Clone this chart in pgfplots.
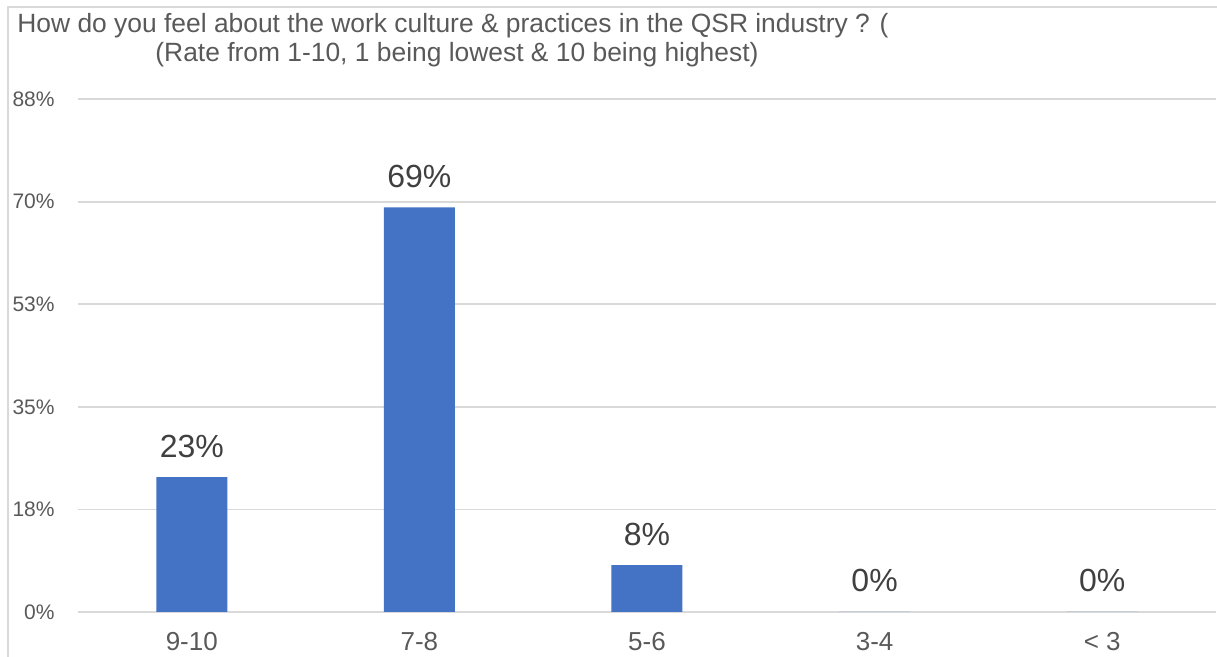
\documentclass[border=0pt]{standalone}
\usepackage{pgfplots}
\pgfplotsset{compat=1.18}
\usepackage{fontspec}
\setmainfont{Liberation Sans}
\definecolor{barblue}{HTML}{4472C4}
\definecolor{txtgray}{HTML}{595959}
\definecolor{lbldark}{HTML}{404040}
\definecolor{gridgray}{HTML}{D9D9D9}
\begin{document}
\begin{tikzpicture}
\useasboundingbox (0,0) rectangle (608.5pt,-328.5pt);
\draw[gridgray, line width=0.8pt] (4pt,-400pt) -- (4pt,-3.5pt) -- (700pt,-3.5pt);
\node[anchor=base west, inner sep=0, text=txtgray, font=\fontsize{13.2}{15}\selectfont] at (8.5pt,-16.5pt) {How do you feel about the work culture \& practices in the QSR industry ? (};
\node[anchor=base west, inner sep=0, text=txtgray, font=\fontsize{13.2}{15}\selectfont] at (77.5pt,-31pt) {(Rate from 1-10, 1 being lowest \& 10 being highest)};
\begin{axis}[
  at={(39pt,-306pt)}, anchor=south west,
  width=569pt, height=256.5pt, scale only axis,
  /pgf/number format/assume math mode=true,
  ybar, bar width=35.5pt,
  xmin=-0.5, xmax=4.5, ymin=0, ymax=87.5,
  xtick={0,1,2,3,4},
  xticklabels={9-10,7-8,5-6,3-4,< 3},
  ytick={0,17.5,35,52.5,70,87.5},
  yticklabels={0\%,18\%,35\%,53\%,70\%,88\%},
  major tick length=0pt,
  axis line style={draw=none},
  ymajorgrids, major grid style={gridgray, line width=0.9pt},
  xticklabel style={anchor=north, inner sep=0pt, yshift=-10pt, text=txtgray, font=\fontsize{13}{15}\selectfont},
  yticklabel style={anchor=east, inner sep=0pt, xshift=-11.5pt, text=txtgray, font=\fontsize{10.5}{12}\selectfont},
  nodes near coords={\pgfmathprintnumber[fixed,precision=0]{\pgfplotspointmeta}\%},
  every node near coord/.append style={anchor=base, inner sep=0pt, yshift=10pt, text=lbldark, font=\fontsize{16}{18}\selectfont},
  clip=false,
]
\addplot[fill=barblue, draw=none] coordinates {(0,23) (1,69) (2,8) (3,0) (4,0)};
\end{axis}
\end{tikzpicture}
\end{document}
